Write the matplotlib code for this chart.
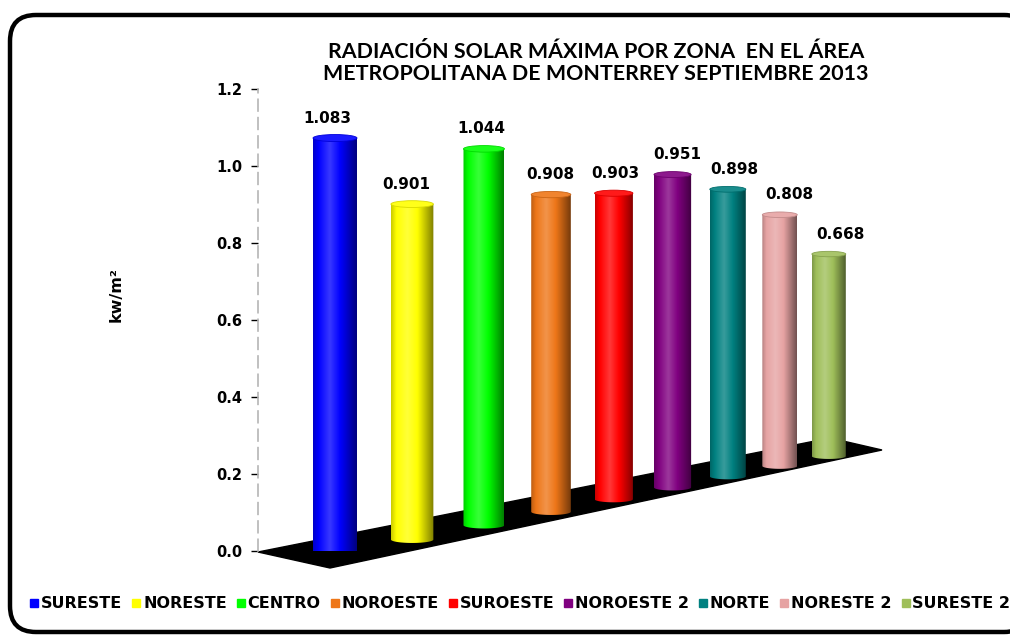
import numpy as np
import matplotlib
matplotlib.use("Agg")
import matplotlib.pyplot as plt
from matplotlib.patches import Polygon, Ellipse, PathPatch, FancyBboxPatch
from matplotlib.path import Path
from matplotlib.colors import to_rgb
from matplotlib.lines import Line2D

zones = ["SURESTE", "NORESTE", "CENTRO", "NOROESTE", "SUROESTE",
         "NOROESTE 2", "NORTE", "NORESTE 2", "SURESTE 2"]
radiation = [1.083, 0.901, 1.044, 0.908, 0.903, 0.951, 0.898, 0.808, 0.668]
zone_colors = ["#0000FF", "#FFFF00", "#00FF00", "#EE7618", "#FF0000",
               "#800080", "#008080", "#E6A3A3", "#9FBF5A"]
y_ticks = [0.0, 0.2, 0.4, 0.6, 0.8, 1.0, 1.2]
title = ("RADIACIÓN SOLAR MÁXIMA POR ZONA  EN EL ÁREA\n"
         "METROPOLITANA DE MONTERREY SEPTIEMBRE 2013")

W, H = 1010, 637
PX = (551 - 89) / 1.2          # pixels per kW/m2 on the value axis
DEPTH_X = 0.037                 # perspective shrink of spacing / width
DEPTH_Y = 0.034                 # perspective shrink of bar height


def shade(color, amount):
    """Lighten (amount > 0) or darken (amount < 0) an rgb colour."""
    c = np.array(to_rgb(color))
    if amount >= 0:
        return c + (1 - c) * amount
    return c * (1 + amount)


def cylinder(ax, xc, base, height, width, color):
    eh = 0.16 * width / PX                    # ellipse height in data units
    x0, x1 = xc - width / 2, xc + width / 2
    top = base + height
    theta = np.linspace(np.pi, 2 * np.pi, 40)
    lower = np.column_stack([xc + width / 2 * np.cos(theta), base + eh / 2 * np.sin(theta)])
    verts = np.vstack([[x0, top], lower, [x1, top], [x0, top]])
    codes = [Path.MOVETO] + [Path.LINETO] * (len(verts) - 2) + [Path.CLOSEPOLY]
    body = PathPatch(Path(verts, codes), facecolor="none", edgecolor="none")
    ax.add_patch(body)

    t = np.linspace(0, 1, 60)
    prof = np.interp(t, [0, 0.12, 0.38, 0.62, 0.85, 1.0], [-0.2, 0.0, 0.22, 0.0, -0.3, -0.5])
    grad = np.array([shade(color, a) for a in prof])[None, :, :]
    im = ax.imshow(grad, extent=[x0, x1, base - eh, top], aspect="auto",
                   interpolation="bilinear", zorder=3)
    im.set_clip_path(body)
    ax.add_patch(Ellipse((xc, top), width, eh, facecolor=shade(color, 0.1),
                         edgecolor=shade(color, -0.15), lw=0.6, zorder=4))
    return top


fig = plt.figure(figsize=(W / 100, H / 100), dpi=100)

# background axes in pixel coordinates for frame and text
bg = fig.add_axes([0, 0, 1, 1])
bg.set_xlim(0, W)
bg.set_ylim(H, 0)
bg.set_axis_off()
bg.add_patch(FancyBboxPatch((10, 15), 1020, 617, boxstyle="round,pad=0,rounding_size=26",
                            facecolor="white", edgecolor="black", lw=3.2))
bg.text(596, 63, title, ha="center", va="center", fontsize=15.4, fontweight="bold",
        family=["Lato", "DejaVu Sans"], linespacing=1.15)
bg.text(116, 295, "kw/m²", rotation=90, ha="center", va="center",
        fontsize=11.5, fontweight="bold")

ax = fig.add_axes([258 / W, 1 - 551 / H, (900 - 258) / W, (551 - 89) / H])
ax.patch.set_alpha(0)

# floor
floor_px = [(258, 552), (330, 568), (882, 450), (830, 438)]
ax.add_patch(Polygon([(x, (551 - y) / PX) for x, y in floor_px], closed=True,
                     facecolor="black", edgecolor="black", clip_on=False, zorder=2))

for i, (v, col) in enumerate(zip(radiation, zone_colors)):
    sx = 1 / (1 + DEPTH_X * i)
    sy = 1 / (1 + DEPTH_Y * i)
    xc = 335 + 80 * i * sx
    base = (-4 + 0.2 * (xc - 335)) / PX
    top = cylinder(ax, xc, base, v * sy, 44 * sx, col)
    ax.text(xc - 8 + 2.5 * i, top + 20 / PX, f"{v:.3f}", ha="center", va="center",
            fontsize=11, fontweight="bold", zorder=5)

ax.set_xlim(258, 900)
ax.set_ylim(0, 1.2)
ax.set_yticks(y_ticks)
ax.set_yticklabels([f"{t:.1f}" for t in y_ticks])
ax.tick_params(axis="y", length=5, width=1, color="black", pad=6, labelsize=10.5)
for lbl in ax.get_yticklabels():
    lbl.set_fontweight("bold")
ax.set_xticks([])
for side in ["top", "right", "bottom"]:
    ax.spines[side].set_visible(False)
ax.spines["left"].set_color("#B5B5B5")
ax.spines["left"].set_linewidth(1.2)
ax.spines["left"].set_linestyle((0, (7, 4)))

handles = [Line2D([], [], marker="s", linestyle="none", markersize=6,
                  markerfacecolor=c, markeredgecolor=c) for c in zone_colors]
fig.legend(handles, zones, loc="center left", bbox_to_anchor=(30 / W, 1 - 604 / H),
           ncol=9, frameon=False, handlelength=0.55, handletextpad=0.15,
           columnspacing=0.6, borderpad=0, borderaxespad=0,
           prop={"weight": "bold", "size": 11.5})

fig.savefig("out.png", dpi=100)
